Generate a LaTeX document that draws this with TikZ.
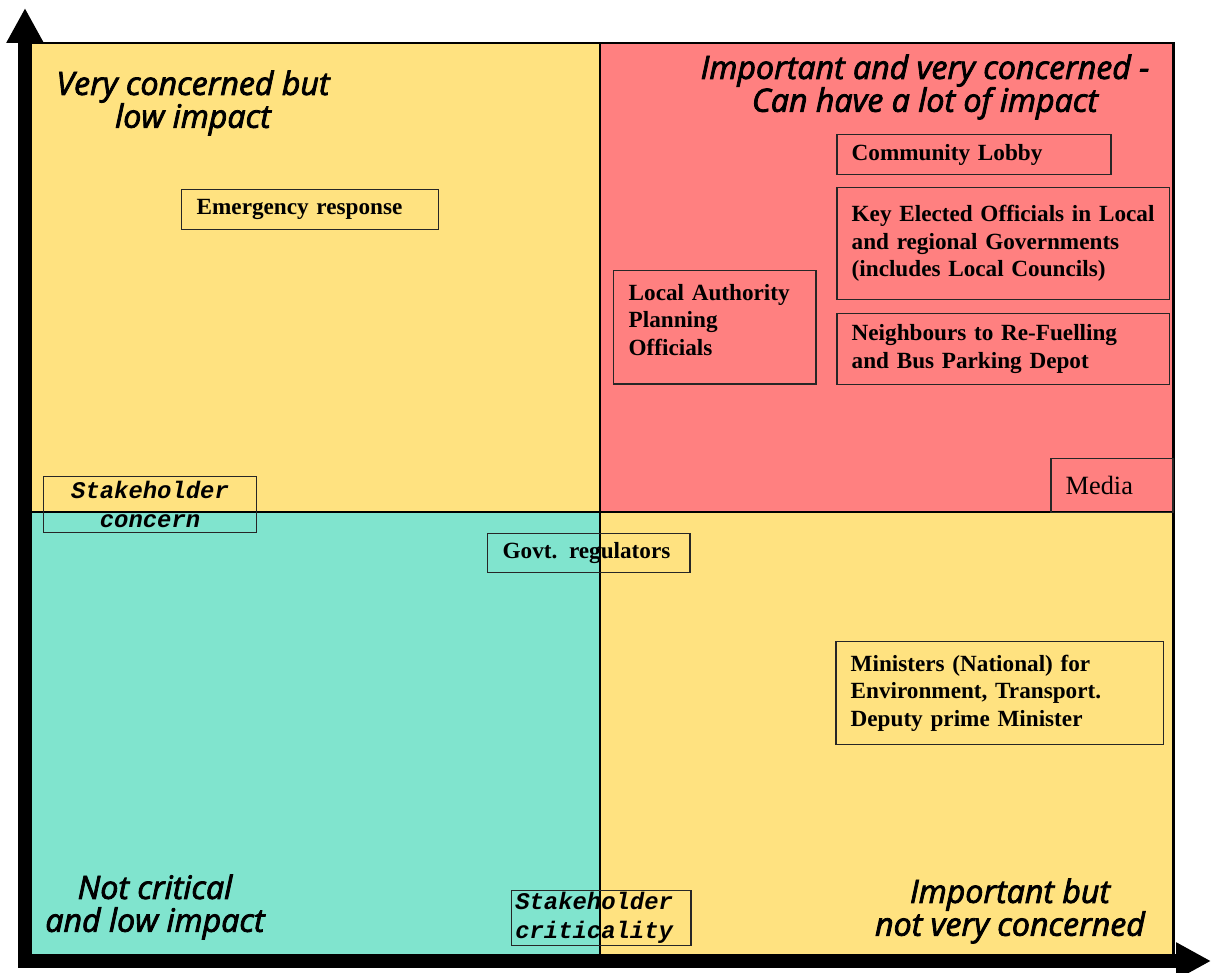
\documentclass[tikz,border=0pt]{standalone}
\usepackage{fontspec}
\setmainfont{Liberation Serif}
\newfontfamily\headfont[FakeBold=2.5]{Open Sans}
\newfontfamily\codefont{Liberation Mono}
\usetikzlibrary{arrows.meta}

\definecolor{quadyellow}{RGB}{255,226,128}
\definecolor{quadred}{RGB}{255,128,128}
\definecolor{quadteal}{RGB}{128,228,206}

\tikzset{
  party/.style={draw=black!85, line width=0.85pt, anchor=north west, align=left,
    inner xsep=8.5pt, inner ysep=2pt, font=\fontsize{13.2}{15.6}\selectfont\bfseries},
  heading/.style={align=center, font=\headfont\itshape\fontsize{18.3}{18.7}\selectfont},
  axislabel/.style={draw=black!85, line width=0.85pt, anchor=north west,
    inner ysep=1pt, font=\codefont\bfseries\itshape\fontsize{13.6}{16.4}\selectfont},
  divider/.style={line width=0.6pt, black},
  axis/.style={line width=8pt, line cap=rect, -{Triangle[length=19.8pt,width=19.8pt]}}
}

\begin{document}
\begin{tikzpicture}[x=0.02cm, y=-0.02cm]
\useasboundingbox (0,0) rectangle (1211,973);

% quadrants
\fill[quadyellow] (32,43) rectangle (600,512);
\fill[quadred] (600,43) rectangle (1173,512);
\fill[quadteal] (32,512) rectangle (600,955);
\fill[quadyellow] (600,512) rectangle (1173,955);
\draw[divider] (600,43) -- (600,955);
\draw[divider] (32,512) -- (1173,512);
\draw[line width=1.7pt] (32,43) -- (1173,43) -- (1173,955);

% axes
\coordinate (origin) at (25,961);
\coordinate (ytip) at (25,8);
\coordinate (xtip) at (1211,961);
\draw[axis] (origin) -- (ytip);
\draw[axis] (origin) -- (xtip);

% quadrant headings
\node[heading] (lowimpact) at (193,103) {Very concerned but\\low impact};
\node[heading] (highimpact) at (925,87) {Important and very concerned -\\Can have a lot of impact};
\node[heading] (notcritical) at (155,907) {Not critical\\and low impact};
\node[heading] (notconcerned) at (1010,911) {Important but\\not very concerned};

% stakeholders
\node[party, text width=129pt, minimum height=22.7pt] (emergency) at (181,189) {Emergency response};
\node[party, text width=139pt, minimum height=22.7pt] (lobby) at (836,134) {Community Lobby};
\node[party, text width=172.5pt, minimum height=63.5pt] (elected) at (836,187)
  {Key Elected Officials in Local\\and regional Governments\\(includes Local Councils)};
\node[party, text width=98pt, minimum height=64.6pt] (planning) at (613,270)
  {Local Authority\\Planning\\Officials\\[-7pt]\mbox{}};
\node[party, text width=172.5pt, minimum height=40.3pt] (neighbours) at (836,313)
  {Neighbours to Re-Fuelling\\and Bus Parking Depot};
\node[party, text width=52.7pt, minimum height=30.6pt, font=\fontsize{15}{17}\selectfont] (media) at (1050,458) {Media};
\node[party, text width=98pt, minimum height=22.1pt] (regulators) at (487,533) {Govt. regulators};
\node[party, text width=169.5pt, minimum height=58.4pt] (ministers) at (835,641)
  {Ministers (National) for\\Environment, Transport.\\Deputy prime Minister};

% axis labels
\node[axislabel, text width=104pt, align=center, inner xsep=8.5pt, minimum height=31.7pt] (concern) at (43,476) {Stakeholder\\concern};
\node[axislabel, text width=98pt, align=left, inner xsep=2pt, minimum height=30.6pt] (criticality) at (511,890) {Stakeholder\\criticality};

\end{tikzpicture}
\end{document}
